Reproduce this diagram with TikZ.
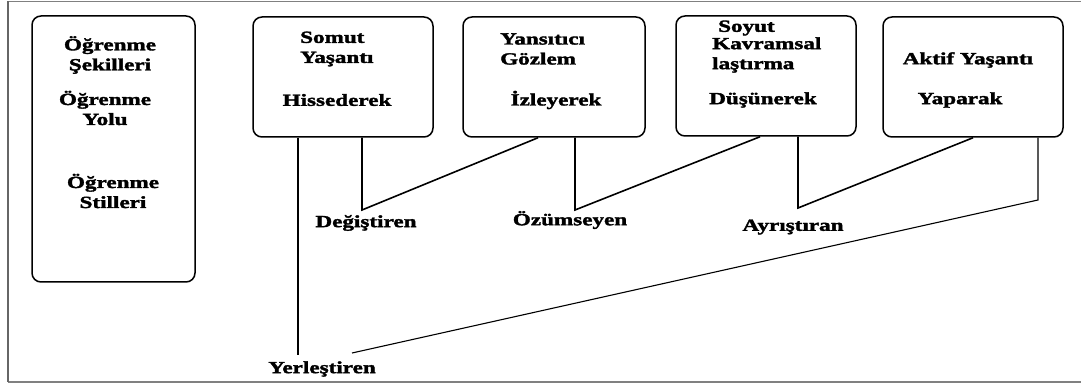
\documentclass[tikz,border=0pt]{standalone}
\usepackage{fontspec}
\setmainfont{Liberation Serif}[BoldFont={Liberation Serif Bold},BoldFeatures={FakeStretch=1.36,FakeBold=2},FakeStretch=1.36]
\usetikzlibrary{calc}
\begin{document}
\begin{tikzpicture}[x=1pt,y=-1pt,
  box/.style={draw,line width=1.5pt,rounded corners=9pt,minimum width=#1,minimum height=120pt,inner sep=0pt},
  txt/.style={font=\fontsize{17}{20}\selectfont\bfseries,inner sep=0pt,align=left},
  ctxt/.style={font=\fontsize{17}{20}\selectfont\bfseries,inner sep=0pt,align=center},
  conn/.style={line width=1.6pt,line join=miter},
  thin/.style={line width=1.1pt}]
\useasboundingbox (0,0) rectangle (1082,387);
\draw[gray,line width=1.4pt] (8,1.5) -- (1081,1.5);
\draw[gray,line width=1.4pt] (8,382) -- (1081,382);
\draw[gray!80!black,line width=1.2pt] (8,1.5) -- (8,382);
% left box
\node[box=163pt,minimum height=266pt] (lb) at (113.5,149) {};
\node[ctxt] (t1) at (110,55) {Öğrenme\\Şekilleri};
\node[ctxt] (t2) at (105,108) {Öğrenme\\Yolu};
\node[ctxt] (t3) at (113,191) {Öğrenme\\Stilleri};
% top boxes
\node[box=180pt] (b1) at (343,77) {};
\node[box=182pt] (b2) at (554,77) {};
\node[box=180pt] (b3) at (766,76) {};
\node[box=180pt] (b4) at (973,77) {};
\node[txt,anchor=west] (s1) at (300,49) {Somut\\Yaşantı};
\node[ctxt] (s1b) at (337,100) {Hissederek};
\node[txt,anchor=west] (s2) at (500,49) {Yansıtıcı\\Gözlem};
\node[ctxt] (s2b) at (556,100) {İzleyerek};
\node[txt,anchor=west] (s3a) at (718,28) {Soyut};
\node[txt,anchor=west] (s3) at (712,55) {Kavramsal\\laştırma};
\node[ctxt] (s3b) at (763,100) {Düşünerek};
\node[ctxt] (s4) at (968,60) {Aktif Yaşantı};
\node[ctxt] (s4b) at (960,100) {Yaparak};
% labels
\node[ctxt] (l1) at (366,223) {Değiştiren};
\node[ctxt] (l2) at (570,220) {Özümseyen};
\node[ctxt] (l3) at (793,227) {Ayrıştıran};
\node[ctxt] (l4) at (322,369) {Yerleştiren};
% connector points
\coordinate (p1) at (298,0);
\coordinate (q1) at (298,355);
\coordinate (p2) at (362,0);
\coordinate (q2) at (362,210);
\coordinate (p3) at (538,0);
\coordinate (p4) at (575,0);
\coordinate (q4) at (575,210);
\coordinate (p5) at (760,0);
\coordinate (p6) at (798,0);
\coordinate (q6) at (798,208);
\coordinate (p7) at (973,0);
\coordinate (p8) at (1038,0);
\coordinate (q8) at (1038,200);
\coordinate (r8) at (352,353);
\draw[thin] (b1.south -| p1) -- (q1);
\draw[conn] (b1.south -| p2) -- (q2) -- (b2.south -| p3);
\draw[conn] (b2.south -| p4) -- (q4) -- (b3.south -| p5);
\draw[conn] (b3.south -| p6) -- (q6) -- (b4.south -| p7);
\draw[thin] (b4.south -| p8) -- (q8) -- (r8);
\end{tikzpicture}
\end{document}
